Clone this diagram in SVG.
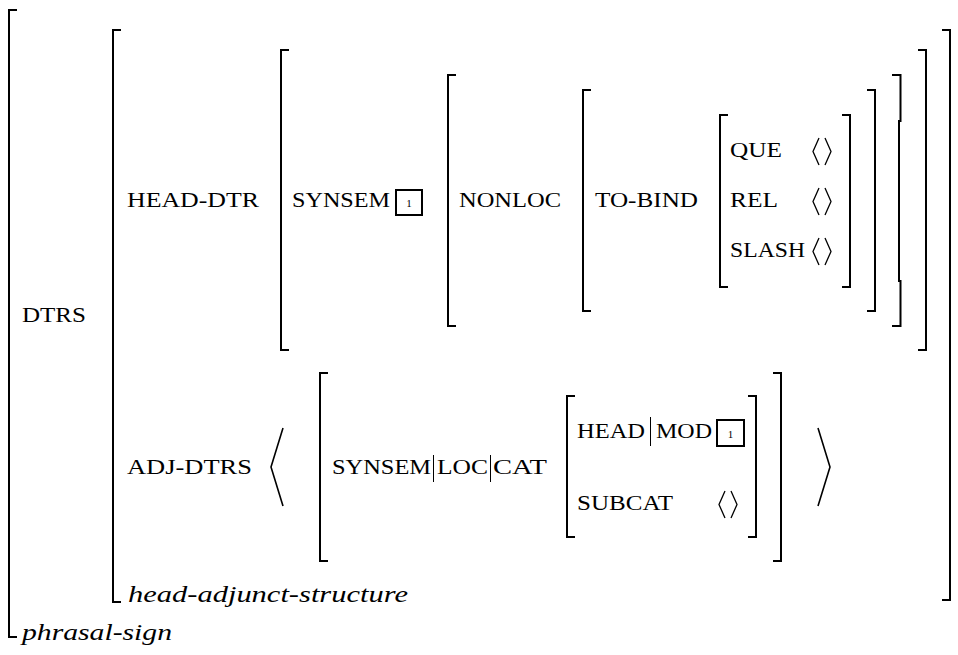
<svg xmlns="http://www.w3.org/2000/svg" width="958" height="655" viewBox="0 0 958 655">
<style>
.br{fill:none;stroke:#000;stroke-width:2}
.ang{fill:none;stroke:#000;stroke-width:1.3;stroke-linejoin:miter}
.bang{fill:none;stroke:#000;stroke-width:1.6}
.bar{stroke:#000;stroke-width:1}
.tag{fill:none;stroke:#000;stroke-width:2}
.sc{font-family:"Liberation Serif","DejaVu Serif",serif;font-size:21px;fill:#000}
.it{font-family:"Liberation Serif","DejaVu Serif",serif;font-style:italic;font-size:24px;fill:#000}
.n{font-family:"Liberation Serif","DejaVu Serif",serif;font-size:11px;fill:#000;text-anchor:middle}
</style>
<rect width="958" height="655" fill="#fff"/>
<g id="phrasal-sign">
  <path class="br" d="M17,10 H9 V637 H17"/>
  <text class="sc" x="22" y="322" textLength="64" lengthAdjust="spacingAndGlyphs">DTRS</text>
  <text class="it" x="22" y="640" textLength="150" lengthAdjust="spacingAndGlyphs">phrasal-sign</text>
</g>
<g id="head-adjunct-structure">
  <path class="br" d="M121,30 H113 V602 H121"/>
  <path class="br" d="M942,30 H950 V600 H942"/>
  <text class="sc" x="127" y="207" textLength="132" lengthAdjust="spacingAndGlyphs">HEAD-DTR</text>
  <text class="sc" x="127" y="474" textLength="125" lengthAdjust="spacingAndGlyphs">ADJ-DTRS</text>
  <text class="it" x="128" y="602" textLength="280" lengthAdjust="spacingAndGlyphs">head-adjunct-structure</text>
</g>
<g id="head-dtr">
  <path class="br" d="M289,50 H281 V350 H289"/>
  <path class="br" d="M918,50 H926 V350 H918"/>
  <text class="sc" x="292" y="207" textLength="98" lengthAdjust="spacingAndGlyphs">SYNSEM</text>
  <rect class="tag" x="396" y="190" width="26" height="25"/>
  <text class="n" x="409" y="207">1</text>
</g>
<g id="synsem">
  <path class="br" d="M456,75 H448 V326 H456"/>
  <path class="br" d="M892,75 H900.5 V121 H899 V281 H900.5 V326 H892"/>
  <text class="sc" x="459" y="207" textLength="102" lengthAdjust="spacingAndGlyphs">NONLOC</text>
</g>
<g id="nonloc">
  <path class="br" d="M591,90 H583 V311 H591"/>
  <path class="br" d="M867,90 H875 V311 H867"/>
  <text class="sc" x="595" y="207" textLength="103" lengthAdjust="spacingAndGlyphs">TO-BIND</text>
</g>
<g id="to-bind">
  <path class="br" d="M728,115 H720 V287 H728"/>
  <path class="br" d="M842,115 H850 V287 H842"/>
  <text class="sc" x="730" y="157" textLength="52" lengthAdjust="spacingAndGlyphs">QUE</text>
  <text class="sc" x="730" y="207" textLength="48" lengthAdjust="spacingAndGlyphs">REL</text>
  <text class="sc" x="730" y="257" textLength="75" lengthAdjust="spacingAndGlyphs">SLASH</text>
  <path class="ang" d="M819,138 L813,151.5 L819,165 M825,138 L831,151.5 L825,165"/>
  <path class="ang" d="M819,188 L813,201.5 L819,215 M825,188 L831,201.5 L825,215"/>
  <path class="ang" d="M819,238 L813,251.5 L819,265 M825,238 L831,251.5 L825,265"/>
</g>
<g id="adj-dtrs">
  <polyline class="bang" points="283,428 271,467 283,506"/>
  <polyline class="bang" points="818,428 830,467 818,506"/>
</g>
<g id="adjunct">
  <path class="br" d="M328,373 H320 V561 H328"/>
  <path class="br" d="M773,373 H781 V561 H773"/>
  <text class="sc" x="332" y="474" textLength="99" lengthAdjust="spacingAndGlyphs">SYNSEM</text>
  <line class="bar" x1="433.5" y1="455" x2="433.5" y2="482"/>
  <text class="sc" x="437" y="474" textLength="51" lengthAdjust="spacingAndGlyphs">LOC</text>
  <line class="bar" x1="490.5" y1="455" x2="490.5" y2="482"/>
  <text class="sc" x="493" y="474" textLength="54" lengthAdjust="spacingAndGlyphs">CAT</text>
</g>
<g id="cat">
  <path class="br" d="M575,396 H567 V537 H575"/>
  <path class="br" d="M748,396 H756 V537 H748"/>
  <text class="sc" x="577" y="438" textLength="68" lengthAdjust="spacingAndGlyphs">HEAD</text>
  <line class="bar" x1="650.5" y1="417" x2="650.5" y2="446"/>
  <text class="sc" x="656" y="438" textLength="56" lengthAdjust="spacingAndGlyphs">MOD</text>
  <rect class="tag" x="717" y="420" width="27" height="26"/>
  <text class="n" x="730.5" y="438">1</text>
  <text class="sc" x="577" y="510" textLength="96" lengthAdjust="spacingAndGlyphs">SUBCAT</text>
  <path class="ang" d="M725,491 L719,504.5 L725,518 M731,491 L737,504.5 L731,518"/>
</g>
<g id="connectors"/>
</svg>
